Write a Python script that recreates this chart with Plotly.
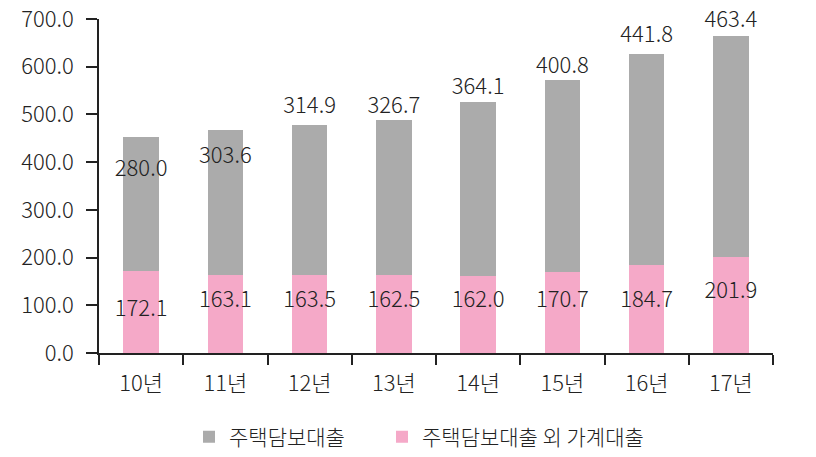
import plotly.graph_objects as go

categories = ["10년", "11년", "12년", "13년", "14년", "15년", "16년", "17년"]
housing = [280.0, 303.6, 314.9, 326.7, 364.1, 400.8, 441.8, 463.4]
other = [172.1, 163.1, 163.5, 162.5, 162.0, 170.7, 184.7, 201.9]
name_housing = "주택담보대출"
name_other = "주택담보대출 외 가계대출"

# label placement (value-space offsets relative to bar top / fixed level)
housing_label_offset = [-69, -56, 37, 26, 29, 26, 36, 29]
other_label_level = [90, 107, 107, 107, 107, 107, 107, 126]

FONT = "Noto Sans CJK KR"
GRAY = "#ABABAB"
PINK = "#F5A9C8"
TXT = "#222222"
F = dict(family=FONT, size=22, color=TXT, weight=300)
FL = dict(family=FONT, size=21, color=TXT, weight=300)

totals = [h + o for h, o in zip(housing, other)]

fig = go.Figure()
fig.add_bar(x=categories, y=other, name=name_other, marker_color=PINK,
            marker_line_width=0, legend="legend2")
fig.add_bar(x=categories, y=housing, name=name_housing, marker_color=GRAY,
            marker_line_width=0, legend="legend")

fig.add_scatter(x=categories, y=[t + d for t, d in zip(totals, housing_label_offset)],
                mode="text", text=[f"{v:.1f}" for v in housing],
                textfont=F, showlegend=False, hoverinfo="skip", cliponaxis=False)
fig.add_scatter(x=categories, y=other_label_level,
                mode="text", text=[f"{v:.1f}" for v in other],
                textfont=F, showlegend=False, hoverinfo="skip", cliponaxis=False)

leg_common = dict(orientation="h", yref="container", y=1 - 437 / 457, yanchor="middle",
                  xref="container", xanchor="left", font=FL, itemwidth=30,
                  bgcolor="rgba(0,0,0,0)")
fig.update_layout(
    width=816, height=457,
    margin=dict(l=99, r=43, t=19, b=104, autoexpand=False),
    barmode="stack", bargap=0.58,
    plot_bgcolor="white", paper_bgcolor="white",
    font=F,
    showlegend=True,
    legend=dict(x=189 / 816, **leg_common),
    legend2=dict(x=382 / 816, **leg_common),
    yaxis=dict(range=[0, 700], dtick=100, tickformat=".1f", showgrid=False,
               showline=True, linecolor="#222222", linewidth=1.5,
               ticks="outside", ticklen=11, tickcolor="#222222", tickwidth=1.5,
               ticklabelstandoff=8, zeroline=False, tickfont=F),
    xaxis=dict(showline=True, linecolor="#222222", linewidth=1.5,
               ticks="outside", tickson="boundaries", ticklen=10,
               tickcolor="#222222", tickwidth=1.5, showgrid=False,
               ticklabelstandoff=10, tickfont=F),
)

fig.write_html("out.html")
